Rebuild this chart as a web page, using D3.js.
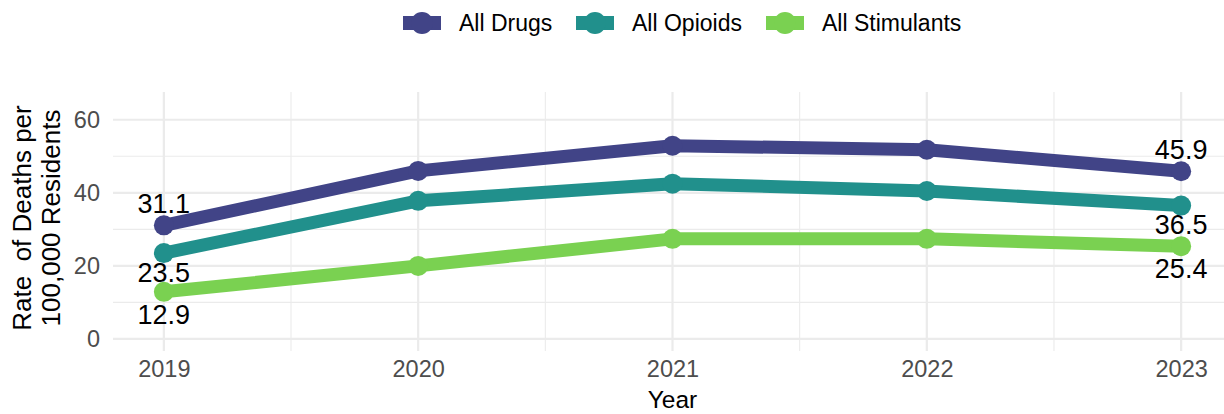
<!DOCTYPE html>
<html><head><meta charset="utf-8">
<script src="https://cdn.jsdelivr.net/npm/d3@7"></script>
<style>body{margin:0;background:#fff;font-family:"Liberation Sans",Arial,sans-serif;}</style>
</head><body><svg id="c" width="1224" height="414"></svg>
<script>
const years = [2019, 2020, 2021, 2022, 2023];
const seriesNames = ["All Drugs", "All Opioids", "All Stimulants"];
const allDrugs = [31.1, 46.0, 52.9, 51.8, 45.9];
const allOpioids = [23.5, 37.8, 42.5, 40.5, 36.5];
const allStimulants = [12.9, 20.0, 27.4, 27.4, 25.4];
const yTicks = [0, 20, 40, 60];
const colors = ["#414487", "#21908C", "#7AD151"];

const series = [allDrugs, allOpioids, allStimulants];
const svg = d3.select("#c");
const L = 113, R = 1232, T = 92, B = 351;
const x = d3.scaleLinear().domain([2018.8, 2023.2]).range([L, R]);
const y = d3.scaleLinear().domain([-3.3, 67.6]).range([B, T]);
const FF = "Liberation Sans, Arial, sans-serif";

const g = svg.append("g");
[10, 30, 50].forEach(v => g.append("line").attr("x1", L).attr("x2", R).attr("y1", y(v)).attr("y2", y(v)).attr("stroke", "#ebebeb").attr("stroke-width", 1.1));
[2019.5, 2020.5, 2021.5, 2022.5].forEach(v => g.append("line").attr("y1", T).attr("y2", B).attr("x1", x(v)).attr("x2", x(v)).attr("stroke", "#ebebeb").attr("stroke-width", 1.1));
yTicks.forEach(v => g.append("line").attr("x1", L).attr("x2", R).attr("y1", y(v)).attr("y2", y(v)).attr("stroke", "#ebebeb").attr("stroke-width", 2.2));
years.forEach(v => g.append("line").attr("y1", T).attr("y2", B).attr("x1", x(v)).attr("x2", x(v)).attr("stroke", "#ebebeb").attr("stroke-width", 2.2));

const yAxis = d3.axisLeft(y).tickValues(yTicks).tickSize(0).tickPadding(0);
const ya = svg.append("g").attr("transform", `translate(${L - 13},0)`).call(yAxis);
ya.select(".domain").remove();
ya.selectAll("text").attr("font-size", 23.5).attr("fill", "#4d4d4d").attr("font-family", FF);
const xAxis = d3.axisBottom(x).tickValues(years).tickFormat(d3.format("d")).tickSize(0).tickPadding(0);
const xa = svg.append("g").attr("transform", `translate(0,${B + 9})`).call(xAxis);
xa.select(".domain").remove();
xa.selectAll("text").attr("font-size", 23.5).attr("fill", "#4d4d4d").attr("dy", "0.71em").attr("font-family", FF);

svg.append("text").attr("x", (L + R) / 2).attr("y", 408).attr("text-anchor", "middle").attr("font-size", 24.5).attr("fill", "#000").text("Year");
const yt = svg.append("text").attr("transform", `translate(0,218) rotate(-90)`).attr("text-anchor", "middle").attr("font-size", 26).attr("fill", "#000");
yt.append("tspan").attr("x", 0).attr("y", 31).attr("xml:space", "preserve").text("Rate  of Deaths per");
yt.append("tspan").attr("x", 0).attr("y", 60).text("100,000 Residents");

const line = d3.line().x((d, i) => x(years[i])).y(d => y(d));
series.forEach((s, k) => {
  svg.append("path").datum(s).attr("d", line).attr("fill", "none").attr("stroke", colors[k]).attr("stroke-width", 13).attr("stroke-linejoin", "round");
  svg.selectAll(null).data(s).enter().append("circle").attr("cx", (d, i) => x(years[i])).attr("cy", d => y(d)).attr("r", 10).attr("fill", colors[k]);
});

const labelOffsets = [-22, 19, 22];
series.forEach((s, k) => {
  [0, 4].forEach(i => {
    svg.append("text").attr("x", x(years[i])).attr("y", y(s[i]) + labelOffsets[k]).attr("dy", "0.36em").attr("text-anchor", "middle").attr("font-size", 27).attr("fill", "#000").text(s[i].toFixed(1));
  });
});

const legX = [403, 576, 766];
seriesNames.forEach((n, k) => {
  const lg = svg.append("g").attr("transform", `translate(${legX[k]},23)`);
  lg.append("rect").attr("x", 0).attr("y", -7).attr("width", 38).attr("height", 14).attr("fill", colors[k]);
  lg.append("circle").attr("cx", 19).attr("cy", 0).attr("r", 11).attr("fill", colors[k]);
  lg.append("text").attr("x", 56).attr("y", 0).attr("dy", "0.36em").attr("font-size", 23).attr("fill", "#000").text(n);
});
</script></body></html>
